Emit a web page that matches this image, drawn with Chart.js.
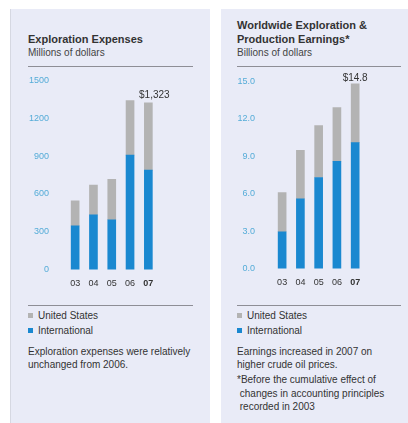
<!DOCTYPE html>
<html>
<head>
<meta charset="utf-8">
<script src="https://cdn.jsdelivr.net/npm/chart.js@4/dist/chart.umd.min.js"></script>
<style>
  html, body { margin:0; padding:0; background:#fff; }
  body { width:408px; height:423px; position:relative; overflow:hidden;
    font-family:"Liberation Sans", Arial, sans-serif; color:#333; }
  .panel { position:absolute; top:9px; bottom:0; background:#e9ebf7; }
  #p1 { left:10px; width:199px; border-left:1px solid #d6d8e2; }
  #p2 { left:221px; right:0; }
  .t { position:absolute; white-space:nowrap; }
  .title { font-size:11px; font-weight:bold; line-height:14px; color:#333; }
  .sub { font-size:10px; line-height:12px; color:#444; }
  .rule { position:absolute; height:1px; background:#8e8e96; }
  .body { font-size:10px; line-height:13px; color:#333; }
  .lg { font-size:10px; line-height:12px; color:#333; }
  .lg i { display:inline-block; width:5px; height:5px; margin-right:5px; vertical-align:1px; }
  canvas { position:absolute; }
</style>
</head>
<body>
<div class="panel" id="p1"></div>
<div class="panel" id="p2"></div>

<!-- left panel text -->
<div class="t title" style="left:28px;top:32px">Exploration Expenses</div>
<div class="t sub" style="left:28px;top:47px">Millions of dollars</div>
<div class="rule" style="left:28px;top:66px;width:165px"></div>
<div class="rule" style="left:28px;top:305px;width:165px"></div>
<div class="t lg" style="left:28px;top:310px"><i style="background:#b3b3b3"></i>United States</div>
<div class="t lg" style="left:28px;top:325px"><i style="background:#1a88d0"></i>International</div>
<div class="t body" style="left:28px;top:345px">Exploration expenses were relatively<br>unchanged from 2006.</div>

<!-- right panel text -->
<div class="t title" style="left:237px;top:18px">Worldwide Exploration &amp;<br>Production Earnings*</div>
<div class="t sub" style="left:237px;top:47px">Billions of dollars</div>
<div class="rule" style="left:237px;top:66px;width:164px"></div>
<div class="rule" style="left:237px;top:305px;width:164px"></div>
<div class="t lg" style="left:237px;top:310px"><i style="background:#b3b3b3"></i>United States</div>
<div class="t lg" style="left:237px;top:325px"><i style="background:#1a88d0"></i>International</div>
<div class="t body" style="left:237px;top:345px">Earnings increased in 2007 on<br>higher crude oil prices.</div>
<div class="t body" style="left:237px;top:373px;line-height:13.5px">*Before the cumulative effect of<br>&nbsp;changes in accounting principles<br>&nbsp;recorded in 2003</div>

<canvas id="c1" width="190" height="234" style="left:10px;top:58px"></canvas>
<canvas id="c2" width="185" height="234" style="left:220px;top:58px"></canvas>

<script>
const years = ['03', '04', '05', '06', '07'];

// exploration expenses, millions of dollars
const expIntl = [347, 434, 395, 907, 789];
const expUS = [198, 237, 321, 434, 534];
const expTicks = [0, 300, 600, 900, 1200, 1500];

// E&P earnings, billions of dollars
const earnIntl = [2.95, 5.6, 7.3, 8.6, 10.1];
const earnUS = [3.15, 3.87, 4.15, 4.3, 4.7];
const earnTicks = [0, 3, 6, 9, 12, 15];

const BLUE = '#1a88d0', GRAY = '#b3b3b3', TICK = '#55acd8';
const FONT = '"Liberation Sans", Arial, sans-serif';

// total label above the last bar
const topLabel = {
  id: 'topLabel',
  afterDatasetsDraw(chart, args, opts) {
    const bar = chart.getDatasetMeta(1).data[4];
    const ctx = chart.ctx;
    ctx.save();
    ctx.font = '10px ' + FONT;
    ctx.fillStyle = '#333';
    ctx.textAlign = 'center';
    ctx.textBaseline = 'middle';
    ctx.fillText(opts.text, bar.x + opts.dx, bar.y - opts.dy);
    ctx.restore();
  }
};

function stackChart(id, intl, us, ticks, yWidth, yPad, padRight, label) {
  new Chart(document.getElementById(id), {
    type: 'bar',
    data: {
      labels: years,
      datasets: [
        { label: 'International', data: intl, backgroundColor: BLUE, barThickness: 8 },
        { label: 'United States', data: us, backgroundColor: GRAY, barThickness: 8 }
      ]
    },
    options: {
      responsive: false, animation: false, devicePixelRatio: 1,
      layout: { padding: { top: 10, right: padRight, bottom: 0, left: 0 } },
      plugins: { legend: { display: false }, tooltip: { enabled: false }, topLabel: label },
      scales: {
        x: {
          stacked: true,
          grid: { display: false, drawTicks: false }, border: { display: false },
          ticks: {
            padding: 9, color: '#333',
            font: c => ({ family: FONT, size: 9, weight: c.index === 4 ? 'bold' : 'normal' })
          },
          afterFit: s => { s.height = 22; }
        },
        y: {
          stacked: true, min: ticks[0], max: ticks[ticks.length - 1],
          grid: { display: false, drawTicks: false }, border: { display: false },
          afterBuildTicks: s => { s.ticks = ticks.map(v => ({ value: v })); },
          ticks: {
            padding: yPad, color: TICK, font: { family: FONT, size: 9 },
            callback: label.fmt
          },
          afterFit: s => { s.width = yWidth; }
        }
      }
    },
    plugins: [topLabel]
  });
}

stackChart('c1', expIntl, expUS, expTicks, 56, 17, 42.5,
  { text: '$1,323', dx: 6, dy: 7, fmt: v => String(v) });
stackChart('c2', earnIntl, earnUS, earnTicks, 53, 18, 40.7,
  { text: '$14.8', dx: 0, dy: 6, fmt: v => Number(v).toFixed(1) });
</script>
</body>
</html>
